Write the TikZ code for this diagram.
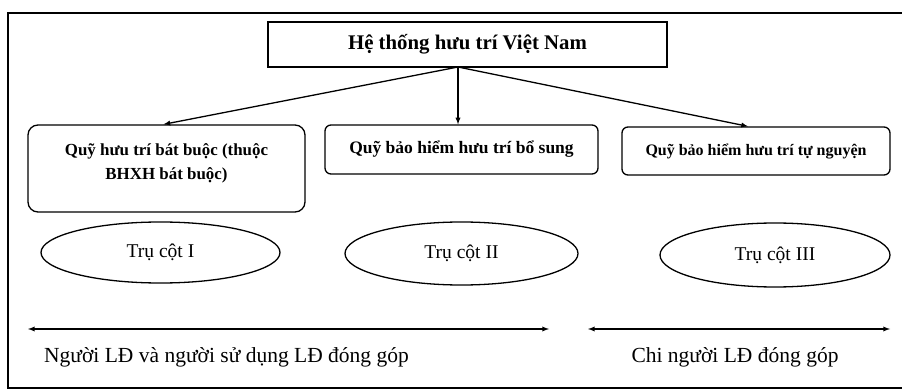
\documentclass[tikz,border=0pt]{standalone}
\usepackage{fontspec}
\setmainfont{Liberation Serif}
\usetikzlibrary{shapes.geometric}
\tikzset{
  fund/.style={draw,rounded corners=6pt,font=\bfseries\fontsize{17.5}{24}\selectfont,align=center,inner sep=0pt},
  pillar/.style={draw,ellipse,inner sep=0pt,font=\fontsize{19.5}{22}\selectfont},
  payer/.style={font=\fontsize{21.5}{24}\selectfont,inner sep=0pt}
}
\begin{document}
\begin{tikzpicture}[x=1pt,y=-1pt]
\pgfsetlinewidth{1.3pt}
\useasboundingbox (0,0) rectangle (902,390);
% khung ngoai (canh phai bi cat)
\draw[line width=1.1pt] (903,13) -- (8,13) -- (8,388) -- (903,388);
\node[draw,minimum width=399pt,minimum height=45pt,font=\bfseries\fontsize{20.8}{24}\selectfont] (root) at (467.5,44.5) {Hệ thống hưu trí Việt Nam};
\coordinate (split) at (458,67);
% ba quy
\node[fund,rounded corners=10pt,minimum width=277pt,minimum height=87pt,font=\bfseries\fontsize{16.9}{24}\selectfont] (fund1) at (166.5,168.5) {Quỹ hưu trí bát buộc (thuộc\\BHXH bát buộc)\\[-10pt]\mbox{}};
\node[fund,minimum width=273pt,minimum height=49pt] (fund2) at (461.5,149.5) {Quỹ bảo hiểm hưu trí bổ sung};
\node[fund,minimum width=268pt,minimum height=48pt,font=\bfseries\fontsize{16}{18}\selectfont] (fund3) at (756,151) {Quỹ bảo hiểm hưu trí tự nguyện};
\draw[-latex] (split) -- ([xshift=-3pt]fund1.north);
\draw[-latex] (split) -- (split |- fund2.north);
\draw[-latex] (split) -- ([xshift=-8pt]fund3.north);
% tru cot
\node[pillar,minimum width=239pt,minimum height=61pt] (p1) at (160.5,252.5) {Trụ cột I};
\node[pillar,minimum width=233pt,minimum height=63pt] (p2) at (461.5,253.5) {Trụ cột II};
\node[pillar,minimum width=230pt,minimum height=64pt] (p3) at (775,255) {Trụ cột III};
% ai dong gop
\coordinate (a1) at (28,329);
\coordinate (a2) at (549,329);
\coordinate (b1) at (588,329);
\coordinate (b2) at (890,329);
\draw[latex-latex] (a1) -- (a2);
\draw[latex-latex] (b1) -- (b2);
\node[payer] (both) at (226.5,357) {Người LĐ và người sử dụng LĐ đóng góp};
\node[payer] (worker) at (735,357) {Chi người LĐ đóng góp};
\end{tikzpicture}
\end{document}
